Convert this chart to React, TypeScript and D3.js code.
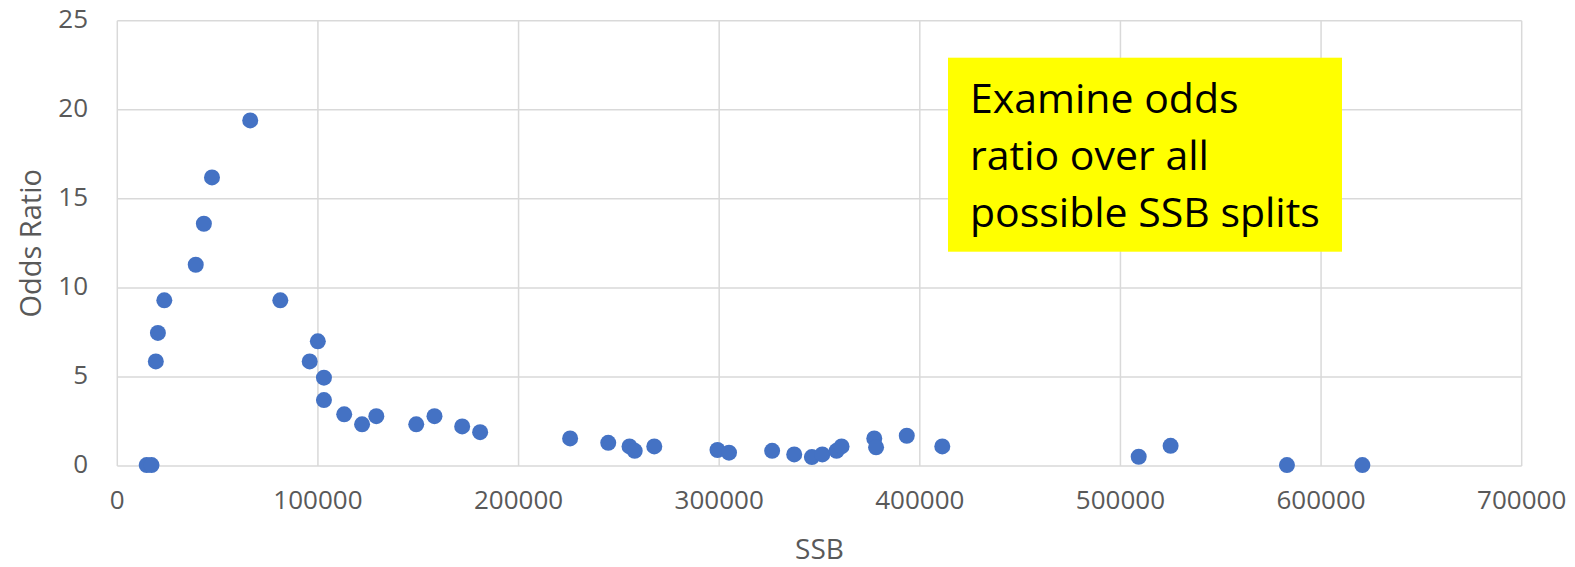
import * as d3 from "d3";
import { useEffect, useRef } from "react";

// values
const ssb = [
    14650, 17050, 19200, 20240, 23430, 39100, 43150, 47200, 66250, 81250,
    95900, 99950, 103000, 103000, 113100, 122000, 129100, 149000, 158100, 171900,
    180850, 225700, 244700, 255300, 257900, 267650, 299150, 304900, 326400, 337400,
    346200, 351400, 358500, 361000, 377300, 378200, 393500, 411200, 509100, 525000,
    583000, 620600,
];
const oddsRatio = [
    0.05, 0.05, 5.87, 7.47, 9.3, 11.3, 13.6, 16.2, 19.4, 9.3,
    5.87, 7.0, 4.96, 3.7, 2.9, 2.34, 2.8, 2.34, 2.8, 2.22,
    1.9, 1.55, 1.3, 1.1, 0.85, 1.1, 0.9, 0.75, 0.85, 0.65,
    0.5, 0.65, 0.85, 1.1, 1.55, 1.05, 1.7, 1.1, 0.52, 1.13,
    0.05, 0.05,
];
const xTicks = [0, 100000, 200000, 300000, 400000, 500000, 600000, 700000];
const yTicks = [0, 5, 10, 15, 20, 25];
const noteLines = ["Examine odds", "ratio over all", "possible SSB splits"];

const W = 1575;
const H = 567;

export default function App() {
    const ref = useRef<SVGSVGElement | null>(null);

    useEffect(() => {
        if (!ref.current) return;
        const svg = d3.select(ref.current);
        svg.selectAll("*").remove();

        const x = d3.scaleLinear().domain([0, 700000]).range([117.3, 1521.7]);
        const y = d3.scaleLinear().domain([0, 25]).range([466, 20.7]);

        const g = svg.append("g").attr("font-family", "'Open Sans', sans-serif");

        // grid
        g.selectAll("line.vgrid")
            .data(xTicks)
            .join("line")
            .attr("class", "vgrid")
            .attr("x1", d => x(d)).attr("x2", d => x(d))
            .attr("y1", y(0)).attr("y2", y(25))
            .attr("stroke", "#d9d9d9")
            .attr("stroke-width", 1.5);

        g.selectAll("line.hgrid")
            .data(yTicks)
            .join("line")
            .attr("class", "hgrid")
            .attr("x1", x(0)).attr("x2", x(700000))
            .attr("y1", d => y(d)).attr("y2", d => y(d))
            .attr("stroke", "#d9d9d9")
            .attr("stroke-width", 1.5);

        // tick labels
        g.selectAll("text.xtick")
            .data(xTicks)
            .join("text")
            .attr("class", "xtick")
            .attr("x", d => x(d))
            .attr("y", 509)
            .attr("text-anchor", "middle")
            .attr("font-size", 26)
            .attr("fill", "#595959")
            .text(d => String(d));

        g.selectAll("text.ytick")
            .data(yTicks)
            .join("text")
            .attr("class", "ytick")
            .attr("x", 88)
            .attr("y", d => y(d) - 2)
            .attr("dy", "0.35em")
            .attr("text-anchor", "end")
            .attr("font-size", 26)
            .attr("fill", "#595959")
            .text(d => String(d));

        // axis titles
        g.append("text")
            .attr("x", (x(0) + x(700000)) / 2)
            .attr("y", 559)
            .attr("text-anchor", "middle")
            .attr("font-size", 28)
            .attr("fill", "#595959")
            .text("SSB");

        g.append("text")
            .attr("transform", `translate(41, ${(y(0) + y(25)) / 2}) rotate(-90)`)
            .attr("text-anchor", "middle")
            .attr("font-size", 29)
            .attr("fill", "#595959")
            .text("Odds Ratio");

        // points
        g.selectAll("circle.pt")
            .data(d3.range(ssb.length))
            .join("circle")
            .attr("class", "pt")
            .attr("cx", i => x(ssb[i]))
            .attr("cy", i => y(oddsRatio[i]))
            .attr("r", 8)
            .attr("fill", "#4472C4");

        // yellow note
        g.append("rect")
            .attr("x", 948).attr("y", 57.7)
            .attr("width", 394).attr("height", 194)
            .attr("fill", "#ffff00");

        g.selectAll("text.note")
            .data(noteLines)
            .join("text")
            .attr("class", "note")
            .attr("x", 970)
            .attr("y", (_, i) => 113.3 + i * 56.7)
            .attr("font-size", 41)
            .attr("fill", "#000")
            .text(d => d);
    }, []);

    return (
        <svg
            ref={ref}
            width={W}
            height={H}
            style={{ position: "absolute", left: 0, top: 0, background: "#fff" }}
        />
    );
}
